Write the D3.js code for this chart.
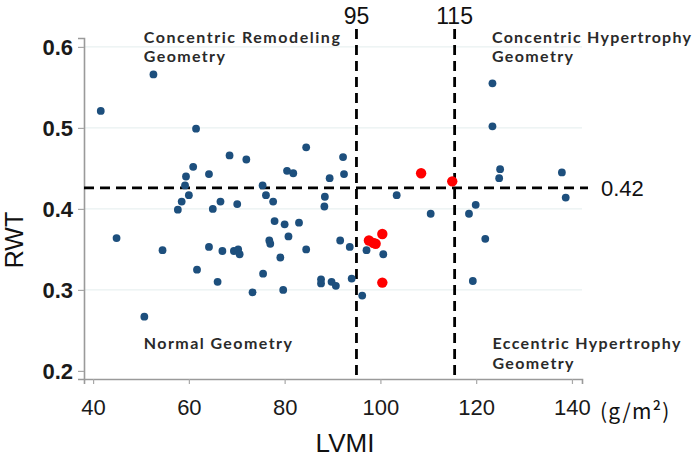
<!DOCTYPE html>
<html>
<head>
<meta charset="utf-8">
<script src="https://cdn.jsdelivr.net/npm/d3@7"></script>
<style>
  html, body { margin: 0; padding: 0; background: #fff; }
  svg { display: block; }
</style>
</head>
<body>
<svg id="chart" width="697" height="458"></svg>
<script>
// ---- data ----
const blueLVMI = [41.6, 52.6, 44.9, 50.7, 54.5, 57.7, 58.5, 59.2, 59.4, 60.0, 60.9, 61.5, 61.7, 64.2, 64.2, 65.0, 66.6, 66.0, 67.0, 68.5,
  69.4, 70.1, 70.3, 70.6, 72.0, 73.3, 75.4, 75.5, 76.1, 76.8, 77.0, 77.6, 77.9, 79.1, 79.7, 80.0, 80.5, 80.8, 81.8, 83.0,
  84.5, 84.5, 87.6, 87.6, 88.3, 88.4, 89.4, 89.8, 90.7, 91.6, 92.2, 92.4, 93.6, 94.0, 96.2, 97.1, 100.6, 103.4, 110.5, 118.5,
  119.9, 119.3, 121.9, 123.4, 123.4, 124.8, 125.0, 137.9, 138.7];
const blueRWT = [0.521, 0.566, 0.364, 0.267, 0.349, 0.399, 0.409, 0.429, 0.440, 0.417, 0.452, 0.499, 0.325, 0.443, 0.353, 0.400, 0.409, 0.310, 0.348, 0.466,
  0.348, 0.406, 0.350, 0.344, 0.461, 0.297, 0.429, 0.320, 0.417, 0.361, 0.357, 0.409, 0.385, 0.340, 0.300, 0.381, 0.447, 0.366, 0.444, 0.383,
  0.476, 0.350, 0.313, 0.308, 0.403, 0.415, 0.438, 0.310, 0.305, 0.361, 0.464, 0.443, 0.353, 0.314, 0.293, 0.349, 0.344, 0.417, 0.394, 0.394,
  0.405, 0.311, 0.363, 0.555, 0.502, 0.438, 0.449, 0.445, 0.414];
const redLVMI = [108.5, 115.0, 100.4, 97.6, 98.5, 99.0, 100.4];
const redRWT  = [0.444, 0.434, 0.369, 0.361, 0.358, 0.357, 0.309];

const xTicks = [40, 60, 80, 100, 120, 140];
const yTicks = [0.2, 0.3, 0.4, 0.5, 0.6];
const xCutValues = [95, 115.5];
const xCutLabels = ["95", "115"];
const yCutValue = 0.426;
const yCutLabel = "0.42";
const xUnitLabel = "(g/m²)";
const xTitle = "LVMI";
const yTitle = "RWT";
const quadTexts = [
  ["Concentric Remodeling", "Geometry"],
  ["Concentric Hypertrophy", "Geometry"],
  ["Normal Geometry"],
  ["Eccentric Hypertrophy", "Geometry"]
];

// ---- layout ----
const quadAnchors = [[50.6, 0.6], [123.3, 0.6], [50.6, 0.222], [123.4, 0.222]];
const quadWidths = { "Concentric Remodeling": 196, "Concentric Hypertrophy": 199, "Normal Geometry": 148,
  "Eccentric Hypertrophy": 188, "Geometry": 81 };

// ---- chart ----
const svg = d3.select("#chart");
const x = d3.scaleLinear().domain([38.1, 142.1]).range([84, 582]);
const y = d3.scaleLinear().domain([0.19, 0.611]).range([379, 38]);

// grid
svg.append("g").selectAll("line").data(yTicks.filter(t => t > 0.2)).join("line")
  .attr("x1", x(38.1)).attr("x2", x(142.1))
  .attr("y1", d => y(d)).attr("y2", d => y(d))
  .attr("stroke", "#e9f1f1").attr("stroke-width", 1.2);

// axes
const xAxis = svg.append("g").attr("transform", `translate(0,${y(0.19)})`)
  .call(d3.axisBottom(x).tickValues(xTicks).tickSize(5).tickPadding(15).tickFormat(d3.format("d")));
const yAxis = svg.append("g").attr("transform", `translate(${x(38.1)},0)`)
  .call(d3.axisLeft(y).tickValues(yTicks).tickSize(6).tickPadding(5).tickFormat(d3.format(".1f")));
[xAxis, yAxis].forEach(a => {
  a.select(".domain").attr("stroke", "#9a9a9a").attr("stroke-width", 1.6);
  a.selectAll(".tick line").attr("stroke", "#a8a8a8").attr("stroke-width", 1.2);
  a.selectAll(".tick text").attr("fill", "#1a1a1a")
    .style("font-family", "Liberation Sans, Arial, sans-serif").style("font-size", "22px");
});
yAxis.selectAll(".tick text").style("font-weight", "bold").attr("dy", "0.36em");

// cut lines
svg.append("g").selectAll("line").data(xCutValues).join("line")
  .attr("x1", d => x(d)).attr("x2", d => x(d))
  .attr("y1", 29).attr("y2", y(0.19))
  .attr("stroke", "#000").attr("stroke-width", 2.8).attr("stroke-dasharray", "10,6");
svg.append("line")
  .attr("x1", x(38.1)).attr("x2", 588)
  .attr("y1", y(yCutValue)).attr("y2", y(yCutValue))
  .attr("stroke", "#000").attr("stroke-width", 2.8).attr("stroke-dasharray", "10,6");

svg.append("g").selectAll("text").data(xCutValues).join("text")
  .attr("x", d => x(d)).attr("y", 24).attr("text-anchor", "middle")
  .style("font-family", "Liberation Sans, Arial, sans-serif").style("font-size", "23px").attr("fill", "#111")
  .text((d, i) => xCutLabels[i]);
svg.append("text").attr("x", 601).attr("y", y(yCutValue)).attr("dy", "0.36em")
  .style("font-family", "Liberation Sans, Arial, sans-serif").style("font-size", "22px").attr("fill", "#111")
  .text(yCutLabel);

// unit label
svg.append("text").attr("x", 600).attr("y", 419)
  .style("font-family", "Noto Sans CJK JP, sans-serif").style("font-size", "21px")
  .style("letter-spacing", "1.2px").attr("fill", "#111")
  .text(xUnitLabel);

// titles
svg.append("text").attr("x", 345).attr("y", 452).attr("text-anchor", "middle")
  .style("font-family", "Liberation Sans, Arial, sans-serif").style("font-size", "26px").attr("fill", "#111")
  .text(xTitle);
svg.append("text").attr("transform", "translate(23,240) rotate(-90)").attr("text-anchor", "middle")
  .style("font-family", "Liberation Sans, Arial, sans-serif").style("font-size", "25px").attr("fill", "#111")
  .text(yTitle);

// quadrant labels
const ql = svg.append("g");
quadTexts.forEach((lines, qi) => {
  const [ax, ay] = quadAnchors[qi];
  lines.forEach((l, i) => {
    ql.append("text").attr("x", x(ax)).attr("y", y(ay) - 4 + i * 19.5)
      .style("font-family", "Lato, sans-serif").style("font-size", "16px").style("font-weight", "bold")
      .attr("textLength", quadWidths[l]).attr("lengthAdjust", "spacing")
      .attr("fill", "#2a2a2a").text(l);
  });
});

// points
svg.append("g").selectAll("circle").data(blueLVMI.map((v, i) => [v, blueRWT[i]])).join("circle")
  .attr("cx", d => x(d[0])).attr("cy", d => y(d[1])).attr("r", 3.9).attr("fill", "#1d4f7d");
svg.append("g").selectAll("circle").data(redLVMI.map((v, i) => [v, redRWT[i]])).join("circle")
  .attr("cx", d => x(d[0])).attr("cy", d => y(d[1])).attr("r", 5.2).attr("fill", "#ff0000");
</script>
</body>
</html>
